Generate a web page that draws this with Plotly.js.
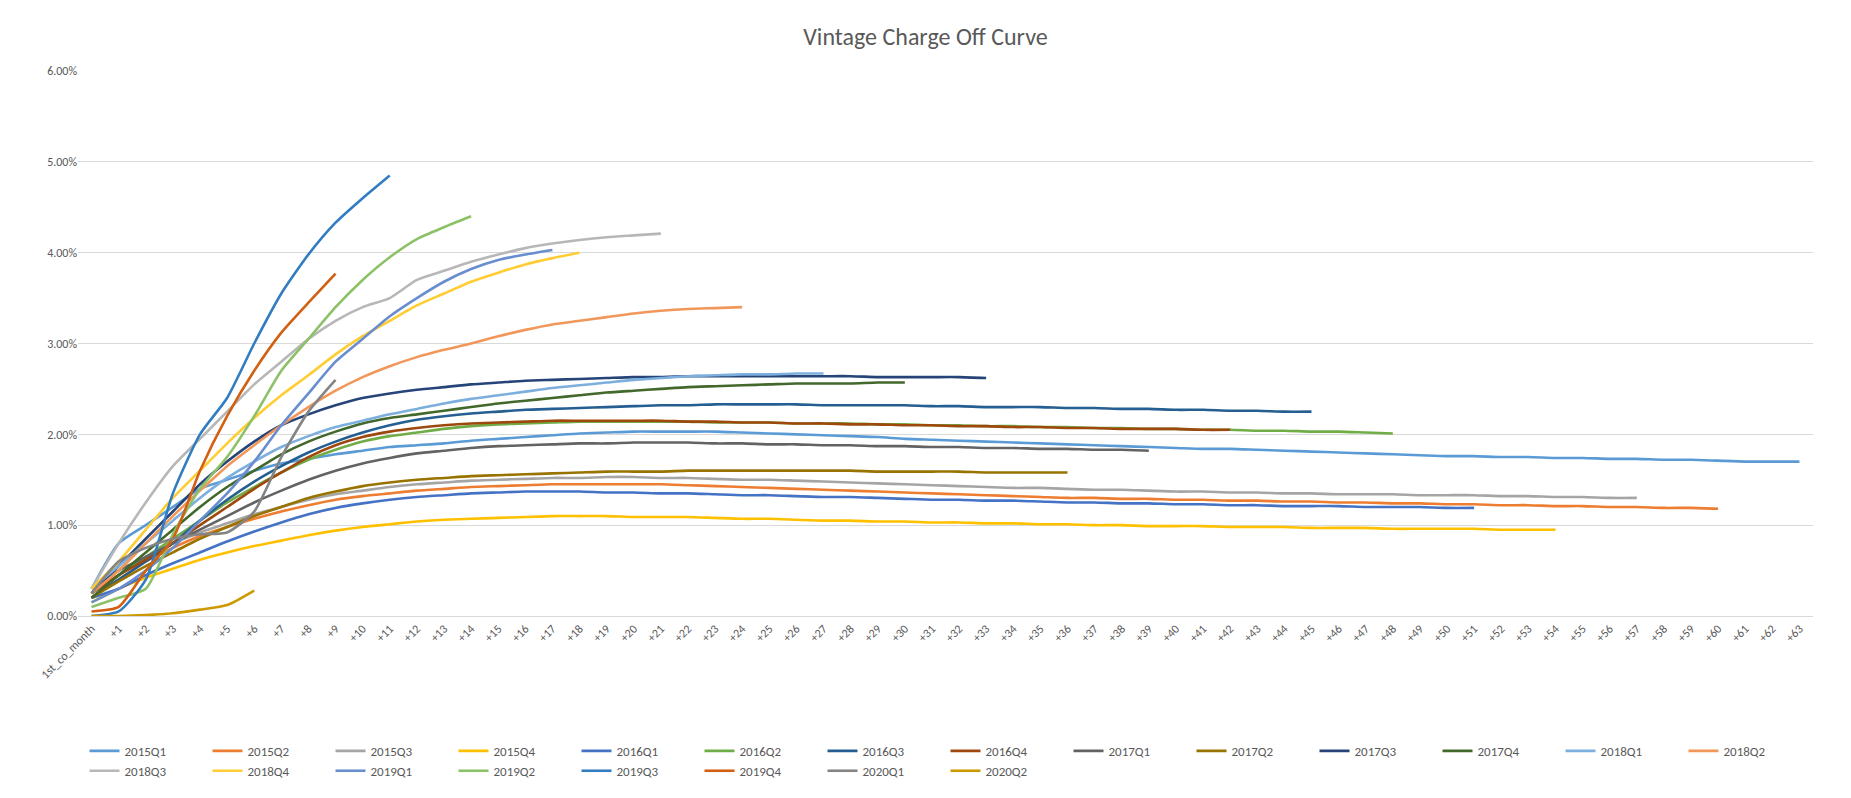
<!DOCTYPE html>
<html>
<head>
<meta charset="utf-8">
<script src="https://cdn.plot.ly/plotly-3.0.1.min.js"></script>
<style>html,body{margin:0;padding:0;background:#fff}#chart{width:1851px;height:798px}</style>
</head>
<body>
<div id="chart"></div>
<script>
// x categories: 1st_co_month, +1 .. +63
const months = ['1st_co_month']
for (let i = 1; i <= 63; i++) months.push('+' + i)

const vintages = ['2015Q1','2015Q2','2015Q3','2015Q4','2016Q1','2016Q2','2016Q3','2016Q4','2017Q1','2017Q2','2017Q3',
                  '2017Q4','2018Q1','2018Q2','2018Q3','2018Q4','2019Q1','2019Q2','2019Q3','2019Q4','2020Q1','2020Q2']

const colors = ['#5B9BD5','#ED7D31','#A5A5A5','#FFC000','#4472C4','#70AD47','#255E91','#9E480E','#636363','#997300','#264478',
                '#43682B','#7CAFDD','#F1975A','#B7B7B7','#FFCD33','#698ED0','#8CC168','#327DC2','#D26012','#848484','#CC9A00']

// cumulative charge off, in percent
const v2015Q1 = [0.3,0.8,1.0,1.2,1.4,1.5,1.6,1.68,1.73,1.78,1.82,1.86,1.88,1.9,1.93,1.95,1.97,1.99,2.01,2.02,2.03,2.03,2.03,2.03,2.02,2.01,2.0,1.99,1.98,1.97,1.95,1.94,1.93,1.92,1.91,1.9,1.89,1.88,1.87,1.86,1.85,1.84,1.84,1.83,1.82,1.81,1.8,1.79,1.78,1.77,1.76,1.76,1.75,1.75,1.74,1.74,1.73,1.73,1.72,1.72,1.71,1.7,1.7,1.7]
const v2015Q2 = [0.2,0.4,0.6,0.75,0.88,0.98,1.07,1.15,1.22,1.28,1.32,1.35,1.38,1.4,1.42,1.43,1.44,1.45,1.45,1.45,1.45,1.45,1.44,1.43,1.42,1.41,1.4,1.39,1.38,1.37,1.36,1.35,1.34,1.33,1.32,1.31,1.3,1.3,1.29,1.29,1.28,1.28,1.27,1.27,1.26,1.26,1.25,1.25,1.24,1.24,1.23,1.23,1.22,1.22,1.21,1.21,1.2,1.2,1.19,1.19,1.18]
const v2015Q3 = [0.25,0.45,0.65,0.8,0.92,1.02,1.12,1.2,1.28,1.34,1.38,1.42,1.45,1.47,1.49,1.5,1.51,1.52,1.52,1.53,1.53,1.52,1.52,1.51,1.5,1.5,1.49,1.48,1.47,1.46,1.45,1.44,1.43,1.42,1.41,1.41,1.4,1.39,1.39,1.38,1.37,1.37,1.36,1.36,1.35,1.35,1.34,1.34,1.34,1.33,1.33,1.33,1.32,1.32,1.31,1.31,1.3,1.3]
const v2015Q4 = [0.15,0.3,0.42,0.52,0.62,0.7,0.77,0.83,0.89,0.94,0.98,1.01,1.04,1.06,1.07,1.08,1.09,1.1,1.1,1.1,1.09,1.09,1.09,1.08,1.07,1.07,1.06,1.05,1.05,1.04,1.04,1.03,1.03,1.02,1.02,1.01,1.01,1.0,1.0,0.99,0.99,0.99,0.98,0.98,0.98,0.97,0.97,0.97,0.96,0.96,0.96,0.96,0.95,0.95,0.95]
const v2016Q1 = [0.2,0.3,0.45,0.58,0.7,0.82,0.93,1.03,1.12,1.19,1.24,1.28,1.31,1.33,1.35,1.36,1.37,1.37,1.37,1.36,1.36,1.35,1.35,1.34,1.33,1.33,1.32,1.31,1.31,1.3,1.29,1.28,1.28,1.27,1.27,1.26,1.25,1.25,1.24,1.24,1.23,1.23,1.22,1.22,1.21,1.21,1.21,1.2,1.2,1.2,1.19,1.19]
const v2016Q2 = [0.25,0.45,0.65,0.85,1.05,1.25,1.42,1.58,1.72,1.83,1.92,1.98,2.02,2.06,2.09,2.11,2.12,2.13,2.14,2.14,2.14,2.14,2.14,2.13,2.13,2.13,2.12,2.12,2.12,2.11,2.11,2.1,2.1,2.09,2.09,2.08,2.08,2.07,2.07,2.06,2.06,2.05,2.05,2.04,2.04,2.03,2.03,2.02,2.01]
const v2016Q3 = [0.2,0.4,0.6,0.8,1.05,1.28,1.48,1.65,1.8,1.92,2.02,2.1,2.16,2.2,2.23,2.25,2.27,2.28,2.29,2.3,2.31,2.32,2.32,2.33,2.33,2.33,2.33,2.32,2.32,2.32,2.32,2.31,2.31,2.3,2.3,2.3,2.29,2.29,2.28,2.28,2.27,2.27,2.26,2.26,2.25,2.25]
const v2016Q4 = [0.25,0.45,0.62,0.8,1.0,1.2,1.4,1.58,1.75,1.88,1.97,2.03,2.07,2.1,2.12,2.13,2.14,2.15,2.15,2.15,2.15,2.15,2.14,2.14,2.13,2.13,2.12,2.12,2.11,2.11,2.1,2.1,2.09,2.09,2.08,2.08,2.07,2.07,2.06,2.06,2.06,2.05,2.05]
const v2017Q1 = [0.3,0.5,0.65,0.8,0.95,1.1,1.25,1.38,1.5,1.6,1.68,1.74,1.79,1.82,1.85,1.87,1.88,1.89,1.9,1.9,1.91,1.91,1.91,1.9,1.9,1.89,1.89,1.88,1.88,1.87,1.87,1.86,1.86,1.85,1.85,1.84,1.84,1.83,1.83,1.82]
const v2017Q2 = [0.2,0.38,0.55,0.7,0.85,0.98,1.1,1.2,1.3,1.37,1.43,1.47,1.5,1.52,1.54,1.55,1.56,1.57,1.58,1.59,1.59,1.59,1.6,1.6,1.6,1.6,1.6,1.6,1.6,1.59,1.59,1.59,1.59,1.58,1.58,1.58,1.58]
const v2017Q3 = [0.25,0.55,0.85,1.15,1.45,1.7,1.92,2.1,2.22,2.32,2.4,2.45,2.49,2.52,2.55,2.57,2.59,2.6,2.61,2.62,2.63,2.63,2.64,2.64,2.64,2.64,2.64,2.64,2.64,2.63,2.63,2.63,2.63,2.62]
const v2017Q4 = [0.2,0.45,0.7,0.95,1.2,1.42,1.6,1.78,1.92,2.03,2.12,2.18,2.22,2.26,2.3,2.34,2.37,2.4,2.43,2.46,2.48,2.5,2.52,2.53,2.54,2.55,2.56,2.56,2.56,2.57,2.57]
const v2018Q1 = [0.3,0.55,0.8,1.05,1.3,1.52,1.7,1.86,1.98,2.08,2.15,2.22,2.28,2.34,2.39,2.43,2.47,2.51,2.54,2.57,2.6,2.62,2.64,2.65,2.66,2.66,2.67,2.67]
const v2018Q2 = [0.25,0.5,0.8,1.1,1.38,1.65,1.88,2.1,2.3,2.48,2.63,2.75,2.85,2.93,3.0,3.08,3.15,3.21,3.25,3.29,3.33,3.36,3.38,3.39,3.4]
const v2018Q3 = [0.3,0.8,1.25,1.65,1.95,2.25,2.55,2.8,3.05,3.25,3.4,3.5,3.7,3.8,3.9,3.98,4.05,4.1,4.14,4.17,4.19,4.21]
const v2018Q4 = [0.3,0.6,0.95,1.3,1.6,1.9,2.18,2.43,2.65,2.88,3.08,3.25,3.42,3.55,3.68,3.78,3.87,3.94,4.0]
const v2019Q1 = [0.15,0.3,0.5,0.75,1.05,1.35,1.7,2.1,2.45,2.8,3.05,3.3,3.5,3.68,3.82,3.92,3.98,4.03]
const v2019Q2 = [0.1,0.2,0.3,0.9,1.4,1.75,2.2,2.7,3.05,3.4,3.7,3.95,4.15,4.28,4.4]
const v2019Q3 = [0.0,0.05,0.4,1.35,2.0,2.4,3.0,3.55,3.98,4.33,4.6,4.85]
const v2019Q4 = [0.05,0.1,0.5,0.85,1.6,2.2,2.7,3.12,3.45,3.77]
const v2020Q1 = [0.25,0.6,0.75,0.85,0.9,0.92,1.15,1.75,2.25,2.6]
const v2020Q2 = [0.0,0.0,0.01,0.03,0.07,0.12,0.28]

const series = [v2015Q1,v2015Q2,v2015Q3,v2015Q4,v2016Q1,v2016Q2,v2016Q3,v2016Q4,v2017Q1,v2017Q2,v2017Q3,
                v2017Q4,v2018Q1,v2018Q2,v2018Q3,v2018Q4,v2019Q1,v2019Q2,v2019Q3,v2019Q4,v2020Q1,v2020Q2]

const data = series.map((vals, i) => ({
    x: months.slice(0, vals.length),
    y: vals.map(v => v / 100),
    type: 'scatter',
    mode: 'lines',
    name: vintages[i],
    line: { color: colors[i], width: 2.6, shape: 'spline', smoothing: 0.6 }
}))

const layout = {
    width: 1851,
    height: 798,
    paper_bgcolor: '#fff',
    plot_bgcolor: '#fff',
    font: { family: 'Calibri, Carlito, "Liberation Sans", sans-serif', color: '#595959', size: 12 },
    title: { text: 'Vintage Charge Off Curve', x: 0.5, y: 0.965, font: { size: 24, color: '#595959' } },
    margin: { l: 78, r: 38, t: 71, b: 159 },
    xaxis: {
        type: 'category',
        categoryorder: 'array',
        categoryarray: months,
        tickangle: -45,
        showgrid: false,
        showline: true,
        linecolor: '#d9d9d9',
        ticks: '',
        tickfont: { size: 12, color: '#595959' },
        range: [-0.5, 63.5]
    },
    yaxis: {
        range: [0, 0.06],
        dtick: 0.01,
        tickformat: '.2%',
        gridcolor: '#d9d9d9',
        zeroline: false,
        ticks: '',
        tickfont: { size: 12, color: '#595959' }
    },
    showlegend: true,
    legend: {
        orientation: 'h',
        x: 0.5, xanchor: 'center',
        y: -0.22, yanchor: 'top',
        entrywidth: 78,
        tracegroupgap: 0,
        font: { size: 13, color: '#595959' }
    }
}

Plotly.newPlot('chart', data, layout, { displayModeBar: false, staticPlot: true })
</script>
</body>
</html>
